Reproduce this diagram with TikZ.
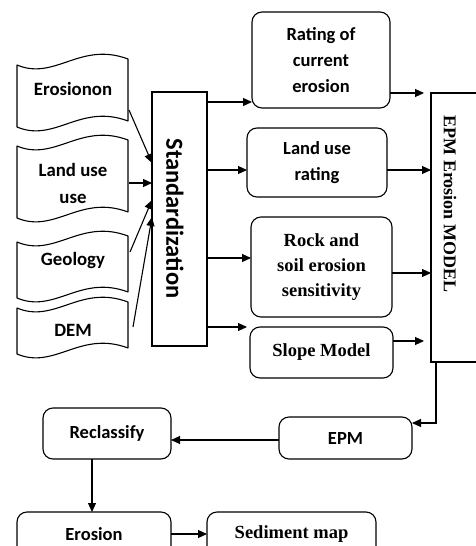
\documentclass[tikz,border=0pt]{standalone}
\usepackage{fontspec}
\setmainfont{Liberation Serif}
\newfontfamily\calib{Carlito}
\usetikzlibrary{arrows.meta}
\newcommand\tapepath[2]{\draw[tapeline] (17,#1) .. controls (55,#1+16) and (80,#1-24) .. (128,#1-6) -- (128,#2-6) .. controls (80,#2-24) and (55,#2+16) .. (17,#2) -- cycle;}
\begin{document}
\begin{tikzpicture}[x=1pt,y=-1pt,
  every node/.style={inner sep=0pt, outer sep=0pt},
  box/.style={draw, line width=1.1pt, rounded corners=10pt, align=center},
  sq/.style={draw, line width=1.1pt},
  sansf/.style={font=\calib\bfseries\fontsize{18.5}{26}\selectfont, align=center},
  inputf/.style={font=\calib\bfseries\fontsize{18.8}{27}\selectfont, align=center},
  seriff/.style={font=\bfseries\fontsize{18.5}{25}\selectfont, align=center},
  arr/.style={line width=1.1pt, -{Triangle[length=9pt,width=8pt]}},
  tapeline/.style={line width=1.1pt, line join=round}]
\useasboundingbox (0,0) rectangle (475,546);

% input tapes
\tapepath{65}{127}
\tapepath{146}{218}
\tapepath{242}{298}
\tapepath{308}{354}
\node[inputf] (ero) at (73,89) {Erosionon};
\node[inputf] (lu) at (73,183.5) {Land use\\use};
\node[inputf] (geo) at (73,260) {Geology};
\node[inputf] (dem) at (73,330) {DEM};
\coordinate (eroR) at (129,110);
\coordinate (luR) at (129,183);
\coordinate (geoR) at (130,252);
\coordinate (demR) at (133,327);

% standardization
\node[sq, minimum width=55pt, minimum height=254pt] (std) at (179.5,219) {};
\node[rotate=-90, font=\calib\bfseries\fontsize{24.5}{28}\selectfont] (stdt) at (175,218.5) {Standardization};

% EPM erosion model
\node[sq, minimum width=50pt, minimum height=269pt] (model) at (456,227.5) {};
\node[rotate=-90, font=\bfseries\fontsize{18}{22}\selectfont] (modelt) at (450,204) {EPM Erosion MODEL};

% middle boxes
\node[box, sansf, minimum width=138pt, minimum height=96pt] (rate) at (321,60) {Rating of\\current\\erosion};
\node[box, sansf, minimum width=140pt, minimum height=69pt] (lur) at (317,162.5) {Land use\\rating};
\node[box, seriff, minimum width=141pt, minimum height=100pt] (rock) at (321.5,267) {Rock and\\soil erosion\\sensitivity};
\node[box, seriff, minimum width=143pt, minimum height=51pt] (slope) at (321.5,352.5) {Slope Model};

% lower boxes
\node[box, sansf, minimum width=133pt, minimum height=42pt] (epm) at (345.5,438) {EPM};
\node[box, sansf, minimum width=128pt, minimum height=51pt] (recl) at (107,433.5) {Reclassify};
\node[box, sansf, minimum width=154pt, minimum height=44pt] (eros) at (94,534) {Erosion};
\node[box, seriff, minimum width=169pt, minimum height=44pt] (sed) at (291.5,534) {Sediment map};

% arrows inputs -> standardization
\draw[arr] (eroR) -- ([yshift=56pt]std.west);
\draw[arr] (luR) -- ([yshift=36pt]std.west);
\draw[arr] (geoR) -- ([yshift=19pt]std.west);
\draw[arr] (demR) -- ([yshift=2pt]std.west);

% standardization -> middle
\draw[arr] (std.east |- 0,102) -- (rate.west |- 0,102);
\draw[arr] (std.east |- 0,170) -- (lur.west |- 0,170);
\draw[arr] (std.east |- 0,258) -- (rock.west |- 0,258);
\draw[arr] (std.east |- 0,327) -- (247,327);

% middle -> model
\coordinate (m1) at (424,93);
\coordinate (m4) at (424,341);
\draw[arr] (rate.east |- m1) -- (m1);
\draw[arr] (lur.east |- 0,170) -- (model.west |- 0,170);
\draw[arr] (rock.east |- 0,273) -- (model.west |- 0,273);
\draw[arr] (slope.east |- m4) -- (m4);

% model -> EPM -> Reclassify -> Erosion -> Sediment
\coordinate (mb) at (436,362);
\draw[arr] (mb) |- (epm.east |- 0,423);
\draw[arr] (epm.west |- 0,440) -- (recl.east |- 0,440);
\draw[arr] (recl.south -| 92,0) -- (eros.north -| 92,0);
\draw[arr] (eros.east) -- (sed.west);
\end{tikzpicture}
\end{document}
